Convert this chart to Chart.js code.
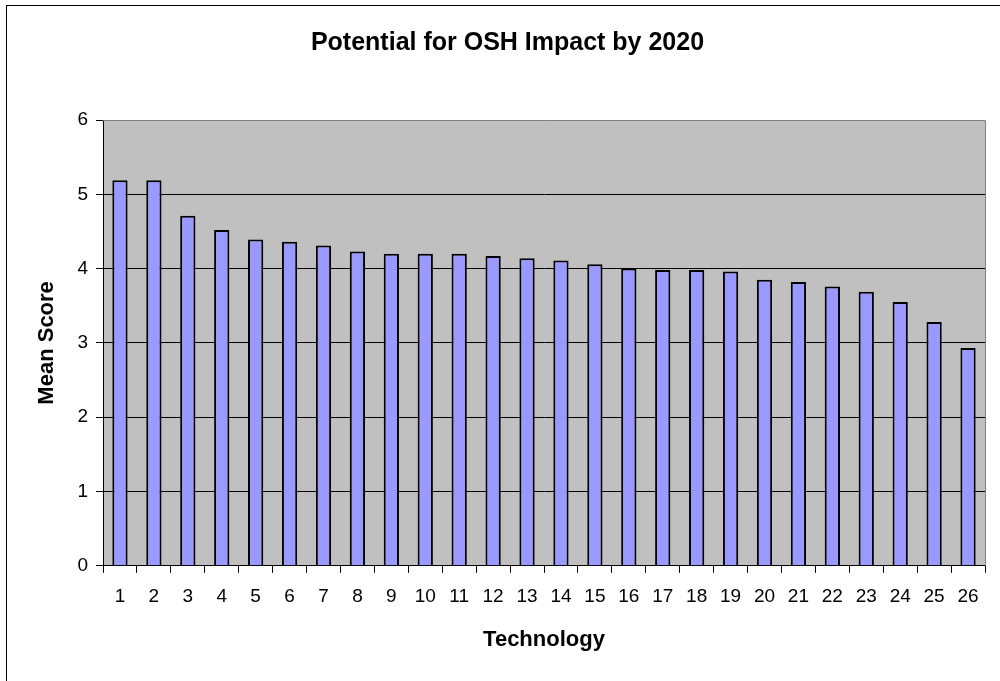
<!DOCTYPE html>
<html>
<head>
<meta charset="utf-8">
<script src="https://cdn.jsdelivr.net/npm/chart.js@4"></script>
<style>
  body { margin: 0; background: #fff; }
  canvas { display: block; }
</style>
</head>
<body>
<canvas id="oshChart" width="1000" height="681"></canvas>
<script>
// Potential for OSH impact by 2020
const technologies = ['1', '2', '3', '4', '5', '6', '7', '8', '9', '10', '11', '12', '13',
    '14', '15', '16', '17', '18', '19', '20', '21', '22', '23', '24', '25', '26'];
const meanScores = [5.19, 5.19, 4.71, 4.52, 4.39, 4.36, 4.31, 4.23, 4.20, 4.20, 4.20, 4.17, 4.14,
    4.11, 4.06, 4.00, 3.98, 3.98, 3.96, 3.85, 3.82, 3.76, 3.69, 3.55, 3.28, 2.93];
const yMin = 0;
const yMax = 6;

const FONT = '"Liberation Sans", Arial, sans-serif';

// grey plot area, outer frame, grey top/right edge
const plotFrame = {
    id: 'plotFrame',
    beforeDraw(chart) {
        const ctx = chart.ctx;
        const a = chart.chartArea;
        ctx.save();
        ctx.fillStyle = '#fff';
        ctx.fillRect(0, 0, chart.width, chart.height);
        ctx.strokeStyle = '#000';
        ctx.lineWidth = 1;
        ctx.strokeRect(6.5, 5.5, 1000, 700);
        ctx.fillStyle = '#c0c0c0';
        ctx.fillRect(a.left, a.top, a.right - a.left, a.bottom - a.top);
        ctx.restore();
    },
    afterDraw(chart) {
        const ctx = chart.ctx;
        const a = chart.chartArea;
        ctx.save();
        ctx.strokeStyle = '#808080';
        ctx.lineWidth = 1;
        ctx.beginPath();
        ctx.moveTo(a.left, Math.round(a.top) + 0.5);
        ctx.lineTo(Math.round(a.right) + 0.5, Math.round(a.top) + 0.5);
        ctx.lineTo(Math.round(a.right) + 0.5, a.bottom);
        ctx.stroke();
        ctx.restore();
    }
};

const data = {
    labels: technologies,
    datasets: [{
        label: 'Mean Score',
        data: meanScores,
        backgroundColor: '#9999ff',
        borderColor: '#000',
        borderWidth: 2,
        barPercentage: 0.45,
        categoryPercentage: 1
    }]
};

const config = {
    type: 'bar',
    data: data,
    plugins: [plotFrame],
    options: {
        responsive: false,
        animation: false,
        layout: { padding: { left: 30, right: 15, top: 0, bottom: 12 } },
        plugins: {
            legend: { display: false },
            tooltip: { enabled: false },
            title: {
                display: true,
                text: 'Potential for OSH Impact by 2020',
                color: '#000',
                font: { family: FONT, size: 25, weight: 'bold' },
                padding: { top: 28, bottom: 62 }
            }
        },
        scales: {
            x: {
                grid: {
                    offset: true,
                    drawOnChartArea: false,
                    color: '#000',
                    tickLength: 7
                },
                border: { color: '#000', width: 1 },
                ticks: {
                    color: '#000',
                    font: { family: FONT, size: 19 },
                    padding: 13,
                    maxRotation: 0,
                    autoSkip: false
                },
                title: {
                    display: true,
                    text: 'Technology',
                    color: '#000',
                    font: { family: FONT, size: 22, weight: 'bold' },
                    padding: { top: 5, bottom: 16 }
                }
            },
            y: {
                min: yMin,
                max: yMax,
                grid: {
                    color: ctx => (ctx.tick && ctx.tick.value === yMax) ? 'rgba(0,0,0,0)' : '#000',
                    tickColor: '#000',
                    tickLength: 7
                },
                border: { color: '#000', width: 1 },
                ticks: {
                    stepSize: 1,
                    color: '#000',
                    font: { family: FONT, size: 19 },
                    padding: 8
                },
                title: {
                    display: true,
                    text: 'Mean Score',
                    color: '#000',
                    font: { family: FONT, size: 22, weight: 'bold' },
                    padding: 4
                },
                afterFit(scale) { scale.width = 73; }
            }
        }
    }
};

const oshChart = new Chart(document.getElementById('oshChart'), config);
</script>
</body>
</html>
